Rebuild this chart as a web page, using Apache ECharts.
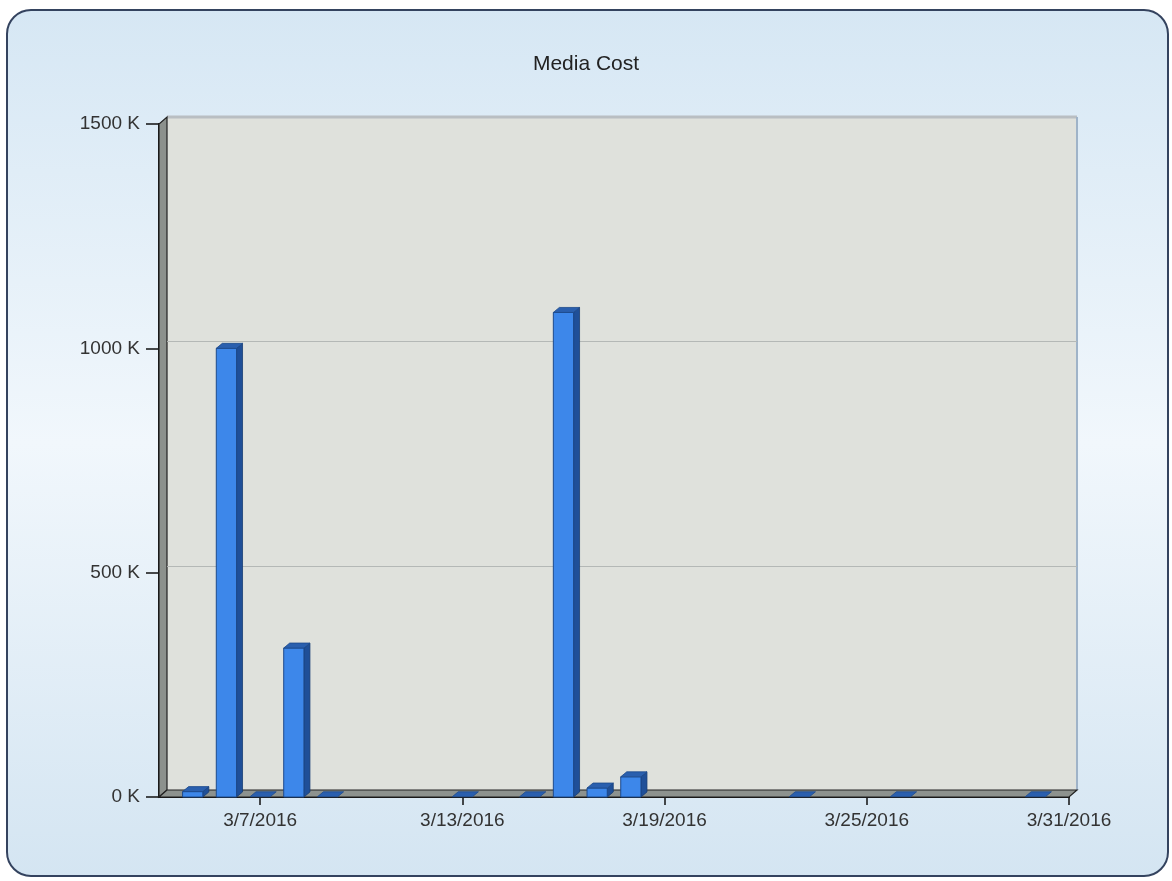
<!DOCTYPE html>
<html>
<head>
<meta charset="utf-8">
<script src="https://cdn.jsdelivr.net/npm/echarts@6/dist/echarts.min.js"></script>
<style>
html,body{margin:0;padding:0;background:#ffffff;}
#chart{width:1172px;height:881px;}
</style>
</head>
<body>
<div id="chart"></div>
<script>
var title = 'Media Cost';
var dates = ['3/4/2016','3/5/2016','3/6/2016','3/7/2016','3/8/2016','3/9/2016','3/10/2016',
  '3/11/2016','3/12/2016','3/13/2016','3/14/2016','3/15/2016','3/16/2016','3/17/2016',
  '3/18/2016','3/19/2016','3/20/2016','3/21/2016','3/22/2016','3/23/2016','3/24/2016',
  '3/25/2016','3/26/2016','3/27/2016','3/28/2016','3/29/2016','3/30/2016','3/31/2016'];
var mediaCost = [null, 12000, 1000000, 500, 332000, 500, null,
  null, null, 500, null, 500, 1080000, 20000,
  45000, null, null, null, null, 500, null,
  null, 500, null, null, null, 500, null];
var yTicks = [0, 500000, 1000000, 1500000];
var labelDates = ['3/7/2016','3/13/2016','3/19/2016','3/25/2016','3/31/2016'];

var WALL_DX = 8, WALL_DY = -7;
var BAR_DX = 6, BAR_DY = -5;

var barData = [];
for (var i = 0; i < dates.length; i++) {
  if (mediaCost[i] !== null) barData.push([i, mediaCost[i]]);
}
var gridData = yTicks.slice(1, 3).map(function (v) { return [0, v]; });

function isLabeled(idx) { return labelDates.indexOf(dates[idx]) >= 0; }

var chart = echarts.init(document.getElementById('chart'));
var option = {
  animation: false,
  graphic: [{
    type: 'rect', z: -10, silent: true,
    shape: { x: 7, y: 10, width: 1161, height: 866, r: 24 },
    style: {
      fill: new echarts.graphic.LinearGradient(0, 0, 0, 1, [
        { offset: 0, color: '#d6e7f4' },
        { offset: 0.5, color: '#f1f7fc' },
        { offset: 1, color: '#d4e5f2' }
      ]),
      stroke: '#34435f', lineWidth: 2
    }
  }],
  title: {
    text: title, left: 'center', top: 49,
    textStyle: { fontFamily: 'Liberation Sans', fontSize: 21, fontWeight: 'normal', color: '#222' }
  },
  grid: { left: 159, right: 103, top: 124, bottom: 84 },
  xAxis: {
    type: 'category', data: dates, boundaryGap: false,
    axisLine: { show: true, lineStyle: { color: '#111', width: 2 } },
    axisTick: { show: true, length: 8, interval: function (idx) { return isLabeled(idx); }, lineStyle: { color: '#111', width: 1.5 } },
    axisLabel: { interval: function (idx) { return isLabeled(idx); }, fontFamily: 'Liberation Sans', fontSize: 19, color: '#333', margin: 14 },
    splitLine: { show: false }
  },
  yAxis: {
    type: 'value', min: 0, max: 1500000, interval: 500000,
    axisLine: { show: true, lineStyle: { color: '#111', width: 2 } },
    axisTick: { show: true, length: 13, lineStyle: { color: '#111', width: 1.5 } },
    axisLabel: { fontFamily: 'Liberation Sans', fontSize: 19, color: '#333', margin: 19,
      formatter: function (v) { return (v / 1000) + ' K'; } },
    splitLine: { show: false }
  },
  series: [
    {
      type: 'custom', z: 1, silent: true,
      data: [[0, 0]],
      renderItem: function (params, api) {
        var cs = params.coordSys;
        var L = cs.x, T = cs.y, R = cs.x + cs.width, B = cs.y + cs.height;
        var children = [];
        children.push({ type: 'rect', shape: { x: L + WALL_DX, y: T + WALL_DY, width: R - L, height: B - T },
          style: { fill: '#dfe1dc', stroke: null } });
        children.push({ type: 'line', shape: { x1: L + WALL_DX, y1: T + WALL_DY, x2: R + WALL_DX, y2: T + WALL_DY },
          style: { stroke: '#b9bec2', lineWidth: 3 } });
        children.push({ type: 'line', shape: { x1: R + WALL_DX, y1: T + WALL_DY, x2: R + WALL_DX, y2: B + WALL_DY },
          style: { stroke: '#9fb3c8', lineWidth: 2 } });
        children.push({ type: 'polygon', shape: { points: [[L, B], [L, T], [L + WALL_DX, T + WALL_DY], [L + WALL_DX, B + WALL_DY]] },
          style: { fill: '#8c918d', stroke: '#222', lineWidth: 1.2 } });
        children.push({ type: 'polygon', shape: { points: [[L, B], [R, B], [R + WALL_DX, B + WALL_DY], [L + WALL_DX, B + WALL_DY]] },
          style: { fill: '#8d928e', stroke: '#222', lineWidth: 1.2 } });
        return { type: 'group', children: children };
      }
    },
    {
      type: 'custom', z: 1.5, silent: true,
      data: gridData,
      renderItem: function (params, api) {
        var cs = params.coordSys;
        var p = api.coord([0, api.value(1)]);
        var y = Math.round(p[1] + WALL_DY) + 0.5;
        return { type: 'line', shape: { x1: cs.x + WALL_DX, y1: y, x2: cs.x + cs.width + WALL_DX, y2: y },
          style: { stroke: '#b4b8b6', lineWidth: 1 } };
      }
    },
    {
      type: 'custom', z: 3,
      data: barData,
      encode: { x: 0, y: 1 },
      renderItem: function (params, api) {
        var idx = api.value(0), v = api.value(1);
        var top = api.coord([idx, v]);
        var base = api.coord([idx, 0]);
        var w = api.size([1, 0])[0] * 0.6;
        var x0 = top[0] - w / 2, x1 = top[0] + w / 2;
        var yt = top[1], yb = base[1];
        var children = [];
        if (yb - yt > 1) {
          children.push({ type: 'polygon', shape: { points: [[x1, yt], [x1 + BAR_DX, yt + BAR_DY], [x1 + BAR_DX, yb + BAR_DY], [x1, yb]] },
            style: { fill: '#1f4f98', stroke: '#173c74', lineWidth: 0.8 } });
          children.push({ type: 'rect', shape: { x: x0, y: yt, width: w, height: yb - yt },
            style: { fill: '#3d87ea', stroke: '#1d4a8c', lineWidth: 1 } });
        }
        children.push({ type: 'polygon', shape: { points: [[x0, yt], [x1, yt], [x1 + BAR_DX, yt + BAR_DY], [x0 + BAR_DX, yt + BAR_DY]] },
          style: { fill: '#2a5fae', stroke: '#1d4a8c', lineWidth: 0.8 } });
        return { type: 'group', children: children };
      }
    }
  ]
};
chart.setOption(option);
</script>
</body>
</html>
